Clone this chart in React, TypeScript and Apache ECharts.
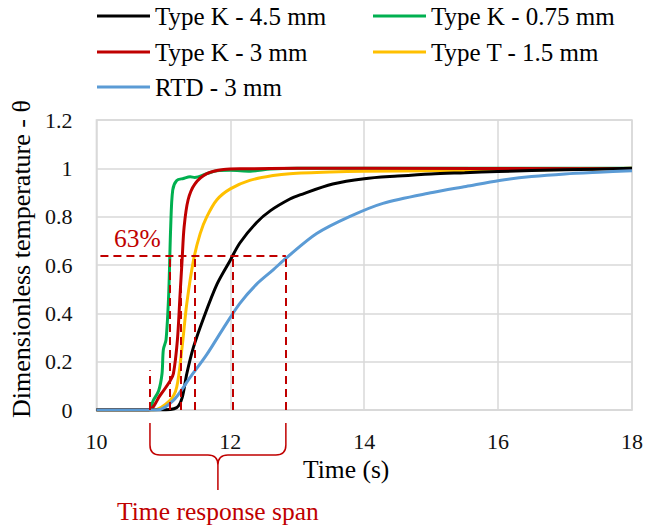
import React, { useEffect, useRef } from "react";
import * as echarts from "echarts";

// ---- data ----
const seriesNames = ["Type K - 4.5 mm", "Type K - 0.75 mm", "Type K - 3 mm", "Type T - 1.5 mm", "RTD - 3 mm"];

const timeK45 = [10, 10.95, 11.2, 11.28, 11.35, 11.45, 11.6, 11.8, 12.0, 12.14, 12.39, 12.6, 12.89, 13.04, 13.53, 14.0, 14.5, 15.0, 15.5, 16.0, 17.0, 18.0];
const thetaK45 = [0, 0, 0.01, 0.05, 0.15, 0.26, 0.38, 0.52, 0.62, 0.69, 0.775, 0.825, 0.873, 0.89, 0.935, 0.957, 0.968, 0.977, 0.982, 0.987, 0.994, 1.0];

const timeK075 = [10, 10.78, 10.85, 10.93, 10.98, 11.0, 11.04, 11.08, 11.11, 11.14, 11.2, 11.3, 11.4, 11.47, 11.65, 11.8, 12.0, 12.3, 12.6, 13.0, 18.0];
const thetaK075 = [0, 0, 0.04, 0.08, 0.15, 0.25, 0.29, 0.48, 0.76, 0.91, 0.95, 0.958, 0.965, 0.962, 0.978, 0.99, 0.992, 0.988, 0.997, 1.0, 1.0];

const timeK3 = [10, 10.78, 10.95, 11.1, 11.15, 11.21, 11.25, 11.28, 11.31, 11.37, 11.47, 11.65, 11.9, 12.2, 13.0, 14.0, 18.0];
const thetaK3 = [0, 0, 0.06, 0.12, 0.15, 0.29, 0.48, 0.62, 0.757, 0.87, 0.935, 0.978, 0.995, 0.998, 1.0, 1.0, 0.998];

const timeT15 = [10, 10.85, 11.1, 11.2, 11.28, 11.35, 11.45, 11.55, 11.65, 11.8, 12.0, 12.29, 12.64, 12.89, 13.5, 14.0, 15.0, 16.0, 17.0, 18.0];
const thetaT15 = [0, 0, 0.04, 0.095, 0.26, 0.44, 0.62, 0.73, 0.8, 0.87, 0.915, 0.95, 0.97, 0.978, 0.985, 0.988, 0.99, 0.992, 0.995, 1.0];

const timeRTD = [10, 10.9, 11.15, 11.4, 11.65, 11.9, 12.14, 12.39, 12.64, 12.84, 13.29, 13.78, 14.28, 15.02, 15.52, 16.02, 16.5, 17.0, 17.5, 18.0];
const thetaRTD = [0, 0, 0.04, 0.135, 0.23, 0.34, 0.44, 0.52, 0.58, 0.63, 0.73, 0.8, 0.855, 0.9, 0.925, 0.95, 0.966, 0.977, 0.984, 0.99];

const level63 = 0.64;
const responseTimes = [11.09, 11.26, 11.47, 12.03, 12.83];
const spanStart = 10.8;
const spanStartHeight = 0.165;
const levelLineStart = 10.06;

const xMin = 10, xMax = 18, xInterval = 2;
const yMin = 0, yMax = 1.2, yInterval = 0.2;

// ---- styles ----
const FONT = "Liberation Serif";
const RED = "#c00000";
const colorOf: Record<string, string> = {
  "Type K - 4.5 mm": "#000000",
  "Type K - 0.75 mm": "#00b050",
  "Type K - 3 mm": "#c00000",
  "Type T - 1.5 mm": "#ffc000",
  "RTD - 3 mm": "#5b9bd5",
};

const zip = (xs: number[], ys: number[]) => xs.map((x, i) => [x, ys[i]]);

export default function App() {
  const ref = useRef<HTMLDivElement>(null);
  useEffect(() => {
    if (!ref.current) return;
    const chart = echarts.init(ref.current, undefined, { renderer: "svg" });

    const mkSeries = (name: string, xs: number[], ys: number[]) => ({
      name,
      type: "line",
      data: zip(xs, ys),
      showSymbol: false,
      symbol: "none",
      smooth: 0.3,
      color: colorOf[name],
      lineStyle: { width: 3, color: colorOf[name] },
      emphasis: { disabled: true },
    });

    const legendPos = [
      { left: 97, top: 3 },
      { left: 373, top: 3 },
      { left: 97, top: 39 },
      { left: 373, top: 39 },
      { left: 97, top: 74 },
    ];

    const markData: any[] = [
      [{ coord: [levelLineStart, level63] }, { coord: [responseTimes[responseTimes.length - 1], level63] }],
      ...responseTimes.map((t) => [{ coord: [t, 0] }, { coord: [t, level63] }]),
      [{ coord: [spanStart, 0] }, { coord: [spanStart, spanStartHeight] }],
    ];

    chart.setOption({
      animation: false,
      backgroundColor: "#ffffff",
      textStyle: { fontFamily: FONT },
      legend: seriesNames.map((n, i) => ({
        data: [n],
        left: legendPos[i].left,
        top: legendPos[i].top,
        padding: 0,
        icon: "rect",
        itemWidth: 53,
        itemHeight: 3,
        textStyle: { fontSize: 25, lineHeight: 26, fontFamily: FONT, color: "#000" },
      })),
      grid: {
        left: 96,
        right: 15,
        top: 120,
        bottom: 116,
        show: true,
        borderColor: "#d9d9d9",
        borderWidth: 1.5,
      },
      xAxis: {
        type: "value",
        min: xMin,
        max: xMax,
        interval: xInterval,
        name: "Time (s)",
        nameLocation: "middle",
        nameGap: 40,
        nameTextStyle: { fontSize: 25.5, lineHeight: 25, fontFamily: FONT, color: "#000", padding: [0, 36, 0, 0] },
        axisLine: { show: true, lineStyle: { color: "#d9d9d9", width: 1.5 } },
        axisTick: { show: false },
        axisLabel: { fontSize: 22, lineHeight: 22, margin: 20, color: "#111", fontFamily: FONT },
        splitLine: { show: true, lineStyle: { color: "#d9d9d9", width: 1.5 } },
      },
      yAxis: {
        type: "value",
        min: yMin,
        max: yMax,
        interval: yInterval,
        name: "Dimensionless temperature - θ",
        nameLocation: "middle",
        nameGap: 62,
        nameTextStyle: { fontSize: 26, lineHeight: 25, fontFamily: FONT, color: "#000", padding: [0, 0, 0, 12] },
        axisLine: { show: false },
        axisTick: { show: false },
        axisLabel: { fontSize: 22, margin: 24, color: "#111", fontFamily: FONT },
        splitLine: { show: true, lineStyle: { color: "#d9d9d9", width: 1.5 } },
      },
      series: [
        mkSeries(seriesNames[1], timeK075, thetaK075),
        mkSeries(seriesNames[3], timeT15, thetaT15),
        mkSeries(seriesNames[2], timeK3, thetaK3),
        mkSeries(seriesNames[0], timeK45, thetaK45),
        mkSeries(seriesNames[4], timeRTD, thetaRTD),
        {
          name: "annotations",
          type: "line",
          data: [],
          silent: true,
          markLine: {
            silent: true,
            symbol: ["none", "none"],
            label: { show: false },
            emphasis: { disabled: true },
            lineStyle: { color: RED, width: 2, type: [8, 5] },
            data: markData,
          },
        },
      ],
    });

    // brace below the axis spanning the response times
    const xl = chart.convertToPixel({ xAxisIndex: 0 }, spanStart) as number;
    const xr = chart.convertToPixel({ xAxisIndex: 0 }, responseTimes[responseTimes.length - 1]) as number;
    const xm = (xl + xr) / 2;
    const yTop = 423, yMid = 455, yTip = 490, r = 10;
    const d =
      `M${xl},${yTop} L${xl},${yMid - r} Q${xl},${yMid} ${xl + r},${yMid} L${xm - r},${yMid} Q${xm},${yMid} ${xm},${yMid + r} L${xm},${yTip} ` +
      `M${xm},${yMid + r} Q${xm},${yMid} ${xm + r},${yMid} L${xr - r},${yMid} Q${xr},${yMid} ${xr},${yMid - r} L${xr},${yTop}`;
    echarts.graphic.registerShape("brace", echarts.graphic.extendPath(d, {}) as any);

    const x63 = chart.convertToPixel({ xAxisIndex: 0 }, levelLineStart) as number;
    const y63 = chart.convertToPixel({ yAxisIndex: 0 }, level63) as number;

    chart.setOption({
      graphic: [
        {
          type: "brace",
          x: 0,
          y: 0,
          silent: true,
          style: { stroke: RED, fill: "none", lineWidth: 1.5 },
        },
        {
          type: "text",
          x: x63 + 37,
          y: y63 - 17,
          silent: true,
          style: { text: "63%", fill: RED, fontSize: 25.5, fontFamily: FONT, align: "center", verticalAlign: "middle" },
        },
        {
          type: "text",
          x: xm,
          y: 511,
          silent: true,
          style: { text: "Time response span", fill: RED, fontSize: 25.5, fontFamily: FONT, align: "center", verticalAlign: "middle" },
        },
      ],
    });

    return () => chart.dispose();
  }, []);

  return (
    <div
      ref={ref}
      style={{ position: "fixed", left: 0, top: 0, width: 647, height: 526, background: "#fff" }}
    />
  );
}
